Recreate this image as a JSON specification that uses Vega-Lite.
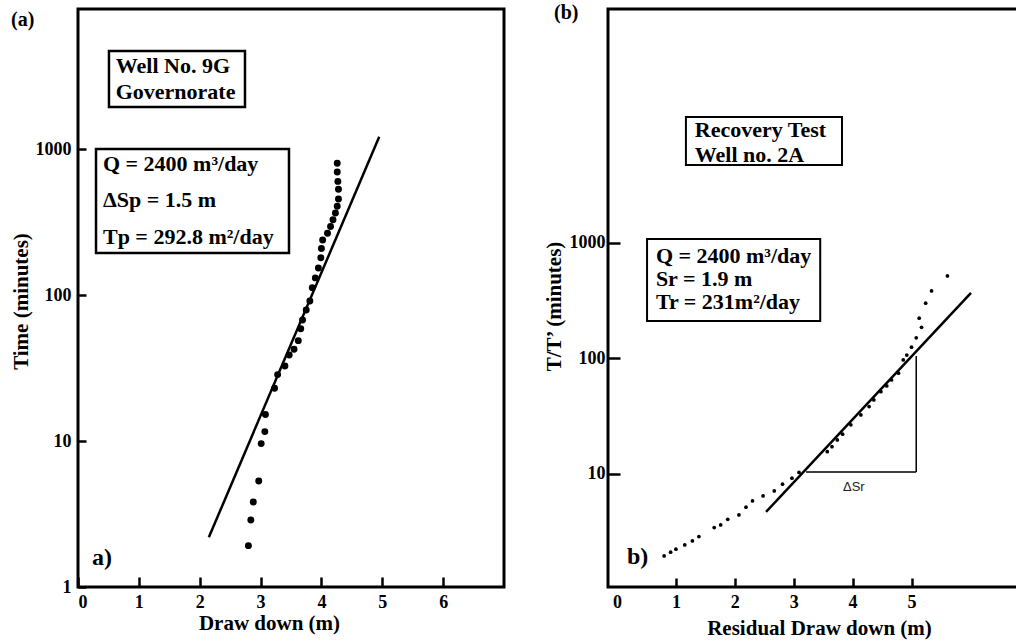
{
  "$schema": "https://vega.github.io/schema/vega-lite/v6.json",
  "background": "white",
  "padding": {"left": 8, "top": 1, "right": 0, "bottom": 0},
  "spacing": 104,
  "bounds": "flush",
  "datasets": {
    "fitA": [{"x": 2.15, "y": 2.19}, {"x": 4.95, "y": 1214}],
    "ptsA": [
      {"x": 2.80, "y": 1.92}, {"x": 2.84, "y": 2.88}, {"x": 2.88, "y": 3.82}, {"x": 2.97, "y": 5.32},
      {"x": 3.01, "y": 9.6}, {"x": 3.07, "y": 11.6}, {"x": 3.08, "y": 15.2}, {"x": 3.23, "y": 23},
      {"x": 3.28, "y": 28.5}, {"x": 3.40, "y": 32.6}, {"x": 3.47, "y": 38.8}, {"x": 3.55, "y": 42.5},
      {"x": 3.62, "y": 48.7}, {"x": 3.66, "y": 58.8}, {"x": 3.69, "y": 67.4}, {"x": 3.75, "y": 78.9},
      {"x": 3.81, "y": 91}, {"x": 3.85, "y": 112}, {"x": 3.90, "y": 131}, {"x": 3.95, "y": 153},
      {"x": 3.99, "y": 180}, {"x": 4.00, "y": 208}, {"x": 4.02, "y": 238}, {"x": 4.10, "y": 265},
      {"x": 4.15, "y": 295}, {"x": 4.19, "y": 328}, {"x": 4.23, "y": 365}, {"x": 4.26, "y": 405},
      {"x": 4.28, "y": 455}, {"x": 4.28, "y": 530}, {"x": 4.27, "y": 600}, {"x": 4.26, "y": 695},
      {"x": 4.26, "y": 800}
    ],
    "boxA": [
      {"x": 0.509, "x2": 2.744, "y": 4690, "y2": 1940},
      {"x": 0.296, "x2": 3.467, "y": 1000, "y2": 194}
    ],
    "textA": [
      {"t": "Well No. 9G", "x": 0.62, "y": 3700, "role": "box"},
      {"t": "Governorate", "x": 0.62, "y": 2456, "role": "box"},
      {"t": "Q = 2400 m³/day", "x": 0.41, "y": 789, "role": "box"},
      {"t": "ΔSp = 1.5 m", "x": 0.41, "y": 447, "role": "box"},
      {"t": "Tp = 292.8 m²/day", "x": 0.41, "y": 250, "role": "box"},
      {"t": "a)", "x": 0.23, "y": 1.58, "role": "panel"},
      {"t": "(a)", "x": -1.10, "y": 7650, "role": "tag"}
    ],
    "fitB": [{"x": 2.53, "y": 4.69}, {"x": 6.01, "y": 369}],
    "triB": [
      {"x": 3.21, "x2": 5.08, "y": 10.4, "y2": 10.4},
      {"x": 5.08, "x2": 5.08, "y": 10.4, "y2": 105}
    ],
    "ptsB": [
      {"x": 0.80, "y": 1.95}, {"x": 0.91, "y": 2.10}, {"x": 1.00, "y": 2.23}, {"x": 1.15, "y": 2.43},
      {"x": 1.28, "y": 2.63}, {"x": 1.39, "y": 2.87}, {"x": 1.65, "y": 3.43}, {"x": 1.76, "y": 3.62},
      {"x": 1.88, "y": 4.05}, {"x": 2.07, "y": 4.42}, {"x": 2.19, "y": 5.15}, {"x": 2.30, "y": 5.84},
      {"x": 2.48, "y": 6.45}, {"x": 2.67, "y": 7.13}, {"x": 2.81, "y": 8.15}, {"x": 2.97, "y": 9.19},
      {"x": 3.09, "y": 10.3}, {"x": 3.57, "y": 15.6}, {"x": 3.65, "y": 17.2}, {"x": 3.74, "y": 19.7},
      {"x": 3.83, "y": 22.1}, {"x": 3.97, "y": 26.6}, {"x": 4.14, "y": 32.4}, {"x": 4.28, "y": 38.3},
      {"x": 4.36, "y": 43.7}, {"x": 4.48, "y": 51.6}, {"x": 4.58, "y": 57.8}, {"x": 4.66, "y": 65.2},
      {"x": 4.78, "y": 74.5}, {"x": 4.86, "y": 97}, {"x": 4.92, "y": 107}, {"x": 5.00, "y": 125},
      {"x": 5.08, "y": 151}, {"x": 5.17, "y": 186}, {"x": 5.13, "y": 223}, {"x": 5.24, "y": 301},
      {"x": 5.34, "y": 384}, {"x": 5.61, "y": 518}
    ],
    "boxB": [
      {"x": 1.17, "x2": 3.82, "y": 12330, "y2": 4730},
      {"x": 0.51, "x2": 3.45, "y": 1084, "y2": 211}
    ],
    "textB": [
      {"t": "Recovery Test", "x": 1.32, "y": 9500, "role": "box"},
      {"t": "Well no. 2A", "x": 1.32, "y": 5780, "role": "box"},
      {"t": "Q = 2400 m³/day", "x": 0.66, "y": 771, "role": "box"},
      {"t": "Sr = 1.9 m", "x": 0.66, "y": 487, "role": "box"},
      {"t": "Tr = 231m²/day", "x": 0.66, "y": 308, "role": "box"},
      {"t": "b)", "x": 0.17, "y": 1.91, "role": "panel"},
      {"t": "(b)", "x": -1.07, "y": 97900, "role": "tag"},
      {"t": "ΔSr", "x": 4.02, "y": 7.72, "role": "note"}
    ]
  },
  "hconcat": [
    {
      "width": 426,
      "height": 578,
      "encoding": {
        "x": {"field": "x", "type": "quantitative",
          "scale": {"domain": [0, 7], "nice": false, "zero": false},
          "axis": {"values": [0, 1, 2, 3, 4, 5, 6], "format": "d", "tickSize": -10, "labelPadding": 25, "labelBaseline": "middle",
            "title": "Draw down (m)", "titleX": 191, "titleY": 36, "titleBaseline": "middle", "titleAlign": "center"}},
        "y": {"field": "y", "type": "quantitative",
          "scale": {"type": "log", "domain": [1, 9100], "nice": false},
          "axis": {"values": [1, 10, 100, 1000], "format": "d", "tickSize": -8, "labelPadding": 15,
            "title": "Time (minutes)", "titleX": -57, "titleY": 292, "titleBaseline": "middle", "titleAlign": "center", "titleAngle": 270}}
      },
      "layer": [
        {"data": {"name": "fitA"}, "mark": {"type": "line", "color": "black", "strokeWidth": 2.5}},
        {"data": {"name": "ptsA"}, "mark": {"type": "point", "filled": true, "color": "black", "size": 48, "opacity": 1}},
        {"data": {"name": "boxA"}, "mark": {"type": "rect", "fillOpacity": 0, "stroke": "black", "strokeWidth": 2.5},
          "encoding": {"x2": {"field": "x2"}, "y2": {"field": "y2"}}},
        {"data": {"name": "textA"}, "transform": [{"filter": "datum.role === 'box'"}],
          "mark": {"type": "text", "align": "left", "baseline": "middle", "font": "Liberation Serif", "fontWeight": "bold", "fontSize": 22, "color": "black"},
          "encoding": {"text": {"field": "t"}}},
        {"data": {"name": "textA"}, "transform": [{"filter": "datum.role === 'panel'"}],
          "mark": {"type": "text", "align": "left", "baseline": "middle", "font": "Liberation Serif", "fontWeight": "bold", "fontSize": 24, "color": "black"},
          "encoding": {"text": {"field": "t"}}},
        {"data": {"name": "textA"}, "transform": [{"filter": "datum.role === 'tag'"}],
          "mark": {"type": "text", "align": "left", "baseline": "middle", "font": "Liberation Serif", "fontWeight": "bold", "fontSize": 20, "color": "black"},
          "encoding": {"text": {"field": "t"}}}
      ]
    },
    {
      "width": 410,
      "height": 578,
      "encoding": {
        "x": {"field": "x", "type": "quantitative",
          "scale": {"domain": [-0.153, 6.808], "nice": false, "zero": false},
          "axis": {"values": [0, 1, 2, 3, 4, 5], "format": "d", "tickSize": -9, "labelPadding": 24, "labelBaseline": "middle",
            "tickOpacity": {"condition": {"test": "datum.value === 0", "value": 0}, "value": 1},
            "title": "Residual Draw down (m)", "titleX": 211, "titleY": 41, "titleBaseline": "middle", "titleAlign": "center"}},
        "y": {"field": "y", "type": "quantitative",
          "scale": {"type": "log", "domain": [1.05, 106000], "nice": false},
          "axis": {"values": [10, 100, 1000], "format": "d", "tickSize": -12, "labelPadding": 15,
            "title": "T/T’ (minutes)", "titleX": -54, "titleY": 297, "titleBaseline": "middle", "titleAlign": "center", "titleAngle": 270}}
      },
      "layer": [
        {"data": {"name": "fitB"}, "mark": {"type": "line", "color": "black", "strokeWidth": 2.5}},
        {"data": {"name": "triB"}, "mark": {"type": "rule", "color": "black", "strokeWidth": 1.5},
          "encoding": {"x2": {"field": "x2"}, "y2": {"field": "y2"}}},
        {"data": {"name": "ptsB"}, "mark": {"type": "point", "filled": true, "color": "black", "size": 14, "opacity": 1}},
        {"data": {"name": "boxB"}, "mark": {"type": "rect", "fillOpacity": 0, "stroke": "black", "strokeWidth": 2},
          "encoding": {"x2": {"field": "x2"}, "y2": {"field": "y2"}}},
        {"data": {"name": "textB"}, "transform": [{"filter": "datum.role === 'box'"}],
          "mark": {"type": "text", "align": "left", "baseline": "middle", "font": "Liberation Serif", "fontWeight": "bold", "fontSize": 22, "color": "black"},
          "encoding": {"text": {"field": "t"}}},
        {"data": {"name": "textB"}, "transform": [{"filter": "datum.role === 'panel'"}],
          "mark": {"type": "text", "align": "left", "baseline": "middle", "font": "Liberation Serif", "fontWeight": "bold", "fontSize": 24, "color": "black"},
          "encoding": {"text": {"field": "t"}}},
        {"data": {"name": "textB"}, "transform": [{"filter": "datum.role === 'tag'"}],
          "mark": {"type": "text", "align": "left", "baseline": "middle", "font": "Liberation Serif", "fontWeight": "bold", "fontSize": 20, "color": "black"},
          "encoding": {"text": {"field": "t"}}},
        {"data": {"name": "textB"}, "transform": [{"filter": "datum.role === 'note'"}],
          "mark": {"type": "text", "align": "center", "baseline": "middle", "font": "Liberation Sans", "fontSize": 13, "color": "#222222"},
          "encoding": {"text": {"field": "t"}}}
      ]
    }
  ],
  "config": {
    "view": {"stroke": "black", "strokeWidth": 3},
    "axis": {"grid": false, "domain": false, "labelFont": "Liberation Serif", "labelFontWeight": "bold", "labelFontSize": 18, "labelColor": "black",
      "titleFont": "Liberation Serif", "titleFontWeight": "bold", "titleFontSize": 21, "titleColor": "black",
      "tickColor": "black", "tickWidth": 2.5}
  }
}
